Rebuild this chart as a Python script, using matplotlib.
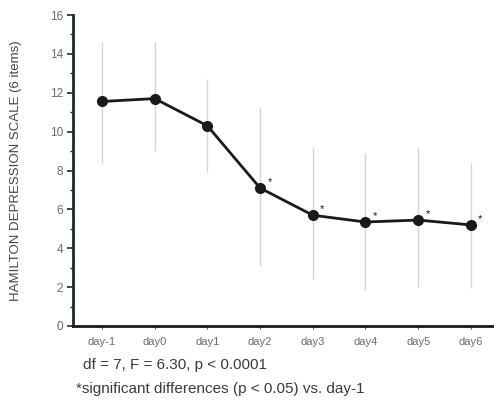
import matplotlib
matplotlib.use("Agg")
import matplotlib.pyplot as plt
from matplotlib.ticker import MultipleLocator
import numpy as np

plt.rcParams['font.family'] = ['Liberation Sans', 'DejaVu Sans']

days = ["day-1", "day0", "day1", "day2", "day3", "day4", "day5", "day6"]
means = [11.55, 11.7, 10.3, 7.1, 5.7, 5.35, 5.45, 5.2]
err_up = [3.05, 2.9, 2.4, 4.1, 3.5, 3.55, 3.75, 3.2]
err_down = [3.15, 2.7, 2.4, 4.0, 3.3, 3.5, 3.45, 3.25]
significant = [False, False, False, True, True, True, True, True]

TXT = "#3a3a3a"
TICK_TXT = "#6a6a6a"

fig = plt.figure(figsize=(4.94, 4.0), dpi=100)
ax = fig.add_axes([73 / 494, 74 / 400, 1 - 73 / 494, 311 / 400])

x = np.arange(len(days))
ax.errorbar(x, means, yerr=[err_down, err_up], fmt="none",
            ecolor="#d4d4d4", elinewidth=1.0, capsize=0, zorder=1)
ax.plot(x, means, "-o", color="#1a1a1a", lw=2.0, ms=7, zorder=3)

for xi, m, s in zip(x, means, significant):
    if s:
        ax.text(xi + 0.14, m + 0.3, "*", fontsize=8, color="#1a1a1a",
                ha="left", va="center")

ax.set_xlim(-0.55, 7.44)
ax.set_ylim(0, 16)
ax.set_xticks(x)
ax.set_xticklabels(days, fontsize=8, color=TICK_TXT)
ax.yaxis.set_major_locator(MultipleLocator(2))
ax.yaxis.set_minor_locator(MultipleLocator(1))
ax.tick_params(axis="y", labelsize=8.5, labelcolor=TICK_TXT, colors="#1c2a22",
               length=4, width=1.2, direction="out", pad=3)
ax.tick_params(axis="y", which="minor", length=2.5, width=1.0,
               colors="#1c2a22")
ax.tick_params(axis="x", length=2, width=0.8, colors="#555555",
               labelcolor=TICK_TXT, pad=6)

for side in ("top", "right"):
    ax.spines[side].set_visible(False)
ax.spines["left"].set_linewidth(2.0)
ax.spines["left"].set_color("#1c2a22")
ax.spines["bottom"].set_linewidth(2.0)
ax.spines["bottom"].set_color("#1a1a1a")

ax.set_ylabel("HAMILTON DEPRESSION SCALE (6 items)", fontsize=9.5,
              color="#444444", labelpad=20)

fig.text(83 / 494, 1 - 365 / 400, "df = 7, F = 6.30, p < 0.0001",
         fontsize=11, color=TXT, va="center")
fig.text(76 / 494, 1 - 389 / 400,
         "*significant differences (p < 0.05) vs. day-1",
         fontsize=11, color=TXT, va="center")

fig.savefig("out.png", dpi=100)
